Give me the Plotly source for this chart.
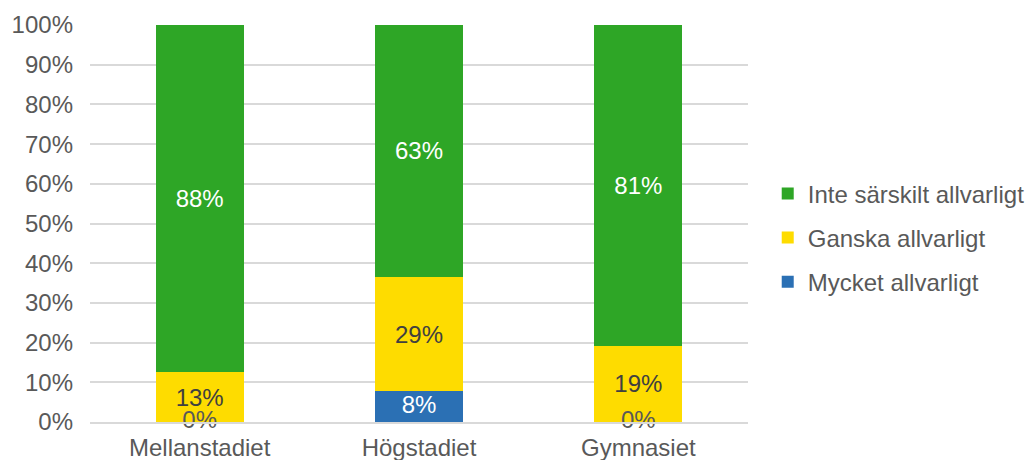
import plotly.graph_objects as go

categories = ["Mellanstadiet", "Högstadiet", "Gymnasiet"]
mycket = [0, 7.7, 0]
ganska = [12.5, 28.9, 19.2]
inte = [87.5, 63.4, 80.8]

series_names = ["Mycket allvarligt", "Ganska allvarligt", "Inte särskilt allvarligt"]
colors = ["#2b70b4", "#fedc00", "#2ea626"]

FONT = "Liberation Sans, Arial, sans-serif"
GRAY = "#595959"
SIZE = 24

fig = go.Figure()

# blue series: bar without text, labels drawn by a text trace so 0% shows
fig.add_trace(go.Bar(x=categories, y=mycket, name=series_names[0],
                     marker=dict(color=colors[0], line_width=0),
                     legendgroup="a", legendrank=3))
fig.add_trace(go.Bar(x=categories, y=ganska, name=series_names[1],
                     marker=dict(color=colors[1], line_width=0),
                     texttemplate="%{y:.0f}%", textposition="inside",
                     insidetextanchor="middle", textangle=0,
                     textfont=dict(color="#404040", size=SIZE, family=FONT),
                     legendgroup="b", legendrank=2))
fig.add_trace(go.Bar(x=categories, y=inte, name=series_names[2],
                     marker=dict(color=colors[2], line_width=0),
                     texttemplate="%{y:.0f}%", textposition="inside",
                     insidetextanchor="middle", textangle=0,
                     textfont=dict(color="white", size=SIZE, family=FONT),
                     legendgroup="c", legendrank=1))

fig.add_trace(go.Scatter(
    x=categories, y=[v / 2 for v in mycket],
    mode="text", text=[f"{v:.0f}%" for v in mycket],
    textposition="middle center",
    textfont=dict(color=["white" if v > 0 else GRAY for v in mycket],
                  size=SIZE, family=FONT),
    showlegend=False, cliponaxis=False, hoverinfo="skip"))

fig.update_layout(
    barmode="stack",
    bargap=0.6,
    width=1025, height=460,
    margin=dict(l=90, r=277, t=25, b=38, autoexpand=False),
    plot_bgcolor="white", paper_bgcolor="white",
    font=dict(family=FONT, size=SIZE, color=GRAY),
    legend=dict(xref="container", yref="container",
                x=0.749, y=0.483, xanchor="left", yanchor="middle",
                traceorder="grouped", tracegroupgap=10,
                font=dict(size=SIZE, color=GRAY),
                itemwidth=30),
)
fig.update_yaxes(range=[0, 100], dtick=10, ticksuffix="%",
                 showgrid=True, gridcolor="#d9d9d9", gridwidth=1.5,
                 zeroline=False, ticks="", ticklabelstandoff=16,
                 automargin=False)
fig.update_xaxes(showline=True, linecolor="#d9d9d9", linewidth=1.5,
                 ticks="", ticklabelstandoff=3, automargin=False)

# page has a default 8px body margin; drop it so the figure fills the window
fig.write_html("out.html", config={"displayModeBar": False},
               post_script="document.body.style.margin='0px';")
